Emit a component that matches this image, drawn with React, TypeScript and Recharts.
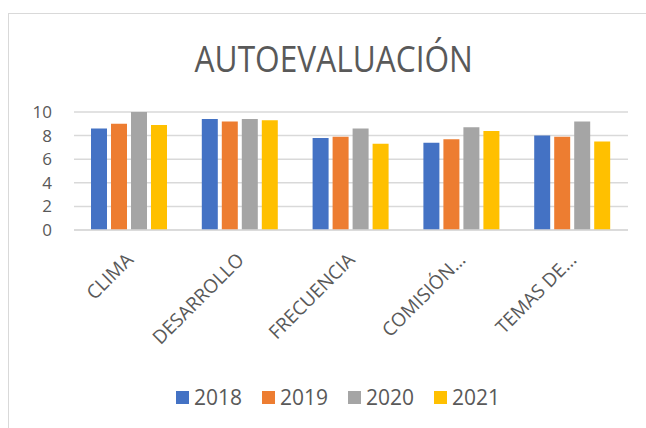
import React from 'react';
import { BarChart, Bar, XAxis, YAxis, CartesianGrid, Legend } from 'recharts';

const categories = ['CLIMA', 'DESARROLLO', 'FRECUENCIA', 'COMISIÓN…', 'TEMAS DE…'];
const years = ['2018', '2019', '2020', '2021'];
const values2018 = [8.6, 9.4, 7.8, 7.4, 8.0];
const values2019 = [9.0, 9.2, 7.9, 7.7, 7.9];
const values2020 = [10.0, 9.4, 8.6, 8.7, 9.2];
const values2021 = [8.9, 9.3, 7.3, 8.4, 7.5];
const yTicks = [0, 2, 4, 6, 8, 10];

const COLORS = ['#4472C4', '#ED7D31', '#A5A5A5', '#FFC000'];
const TEXT = '#595959';
const FONT = "'Open Sans', sans-serif";

const data = categories.map((name, i) => ({
  name,
  '2018': values2018[i],
  '2019': values2019[i],
  '2020': values2020[i],
  '2021': values2021[i],
}));

const CategoryTick = (props: any) => {
  const { x, y, payload } = props;
  const ax = x + 5;
  const ay = y + 31;
  return (
    <text
      x={ax}
      y={ay}
      textAnchor="end"
      fill={TEXT}
      fontSize={19}
      fontFamily={FONT}
      transform={`rotate(-45, ${ax}, ${ay})`}
    >
      {payload.value}
    </text>
  );
};

const LegendContent = () => (
  <div style={{ display: 'flex', justifyContent: 'center', fontFamily: FONT, fontSize: 21, color: TEXT }}>
    {years.map((year, i) => (
      <div key={year} style={{ display: 'flex', alignItems: 'center', marginRight: i < years.length - 1 ? 20 : 0 }}>
        <span style={{ display: 'inline-block', width: 13, height: 13, background: COLORS[i], marginRight: 5 }} />
        <span>{year}</span>
      </div>
    ))}
  </div>
);

const App: React.FC = () => {
  return (
    <div style={{ position: 'absolute', left: 0, top: 0, width: 646, height: 428, overflow: 'hidden', background: '#fff' }}>
      <div style={{ position: 'absolute', left: 8, top: 13, width: 700, height: 500, border: '1px solid #d9d9d9' }} />
      <div
        style={{
          position: 'absolute',
          left: 0,
          width: 668,
          top: 34,
          textAlign: 'center',
          fontFamily: FONT,
          fontSize: 37,
          color: TEXT,
          lineHeight: '48px',
        }}
      >
        <span style={{ display: 'inline-block', transform: 'scaleX(0.855)' }}>AUTOEVALUACIÓN</span>
      </div>
      <BarChart
        width={646}
        height={428}
        data={data}
        margin={{ top: 112, right: 18, left: 0, bottom: 0 }}
        barCategoryGap={17}
        barGap={4}
        style={{ position: 'absolute', left: 0, top: 0 }}
      >
        <CartesianGrid vertical={false} stroke="#d9d9d9" strokeWidth={1.5} />
        <XAxis
          dataKey="name"
          height={198}
          tickLine={false}
          axisLine={{ stroke: '#d9d9d9', strokeWidth: 1.5 }}
          tickSize={0}
          tickMargin={0}
          interval={0}
          tick={<CategoryTick />}
        />
        <YAxis
          width={74}
          domain={[0, 10]}
          ticks={yTicks}
          interval={0}
          tickLine={false}
          axisLine={false}
          tickSize={0}
          tickMargin={22}
          tick={{ fill: TEXT, fontSize: 17, fontFamily: FONT }}
        />
        <Legend
          verticalAlign="middle"
          content={<LegendContent />}
          wrapperStyle={{ top: 383, left: 8, width: 660 }}
        />
        {years.map((year, i) => (
          <Bar key={year} dataKey={year} fill={COLORS[i]} isAnimationActive={false} />
        ))}
      </BarChart>
    </div>
  );
};

export default App;
